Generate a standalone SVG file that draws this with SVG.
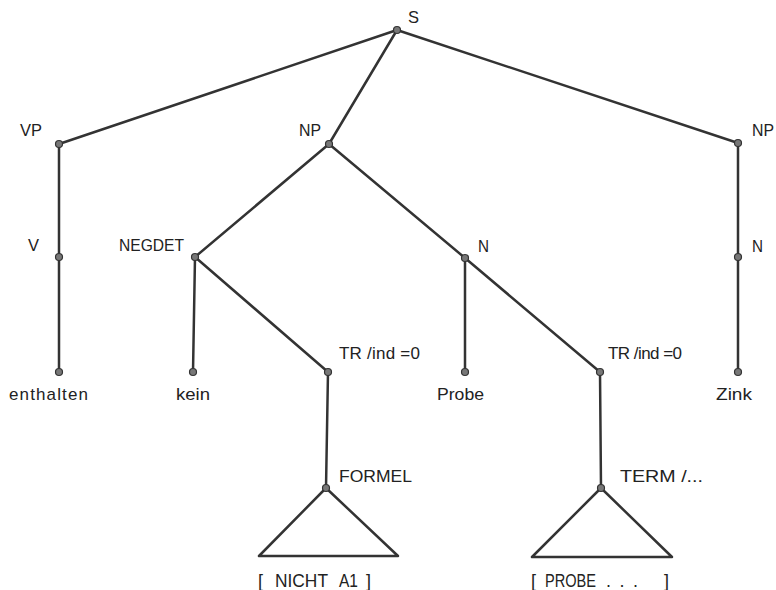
<svg xmlns="http://www.w3.org/2000/svg" width="776" height="590" viewBox="0 0 776 590">
<style>
.e{stroke:#333;stroke-width:2.5;fill:none;stroke-linecap:round;stroke-linejoin:round}
.n{fill:#777;stroke:#333;stroke-width:1.2}
text{font-family:"Liberation Sans","DejaVu Sans",sans-serif;font-size:17px;fill:#222}
.b{font-size:18px}
</style>
<rect width="776" height="590" fill="#fff"/>
<g id="connectors">
<line class="e" x1="397" y1="30" x2="59" y2="144"/>
<line class="e" x1="397" y1="30" x2="329" y2="144"/>
<line class="e" x1="397" y1="30" x2="738" y2="143"/>
<line class="e" x1="59" y1="144" x2="59" y2="257"/>
<line class="e" x1="59" y1="257" x2="59" y2="372"/>
<line class="e" x1="329" y1="144" x2="195" y2="257"/>
<line class="e" x1="329" y1="144" x2="465" y2="258"/>
<line class="e" x1="195" y1="257" x2="193" y2="372"/>
<line class="e" x1="195" y1="257" x2="328" y2="372"/>
<line class="e" x1="328" y1="372" x2="326" y2="488"/>
<line class="e" x1="465" y1="258" x2="465" y2="372"/>
<line class="e" x1="465" y1="258" x2="600" y2="372"/>
<line class="e" x1="600" y1="372" x2="601" y2="488"/>
<line class="e" x1="738" y1="143" x2="738" y2="257"/>
<line class="e" x1="738" y1="257" x2="738" y2="372"/>
<polygon class="e" points="326,488 259,556 398,556"/>
<polygon class="e" points="601,488 532,557 672,557"/>
</g>
<g id="S"><circle class="n" cx="397" cy="30" r="3.5"/><text x="408" y="23" textLength="11" lengthAdjust="spacingAndGlyphs">S</text></g>
<g id="VP"><circle class="n" cx="59" cy="144" r="3.5"/><text x="20" y="136" textLength="22" lengthAdjust="spacingAndGlyphs">VP</text></g>
<g id="NP1"><circle class="n" cx="329" cy="144" r="3.5"/><text x="299" y="136" textLength="22" lengthAdjust="spacingAndGlyphs">NP</text></g>
<g id="NP2"><circle class="n" cx="738" cy="143" r="3.5"/><text x="752" y="136" textLength="22" lengthAdjust="spacingAndGlyphs">NP</text></g>
<g id="V"><circle class="n" cx="59" cy="257" r="3.5"/><text x="28" y="251" textLength="11" lengthAdjust="spacingAndGlyphs">V</text></g>
<g id="NEGDET"><circle class="n" cx="195" cy="257" r="3.5"/><text x="119" y="251" textLength="65" lengthAdjust="spacingAndGlyphs">NEGDET</text></g>
<g id="N1"><circle class="n" cx="465" cy="258" r="3.5"/><text x="478" y="252" textLength="11" lengthAdjust="spacingAndGlyphs">N</text></g>
<g id="N2"><circle class="n" cx="738" cy="257" r="3.5"/><text x="752" y="252" textLength="11" lengthAdjust="spacingAndGlyphs">N</text></g>
<g id="enthalten"><circle class="n" cx="59" cy="372" r="3.5"/><text x="9" y="400" textLength="79" lengthAdjust="spacing">enthalten</text></g>
<g id="kein"><circle class="n" cx="193" cy="372" r="3.5"/><text x="176" y="400" textLength="34" lengthAdjust="spacingAndGlyphs">kein</text></g>
<g id="TR1"><circle class="n" cx="328" cy="372" r="3.5"/><text x="339" y="359" textLength="81" lengthAdjust="spacing">TR /ind =0</text></g>
<g id="Probe"><circle class="n" cx="465" cy="372" r="3.5"/><text x="437" y="400" textLength="47" lengthAdjust="spacingAndGlyphs">Probe</text></g>
<g id="TR2"><circle class="n" cx="600" cy="372" r="3.5"/><text x="608" y="359" textLength="74" lengthAdjust="spacing">TR /ind =0</text></g>
<g id="Zink"><circle class="n" cx="738" cy="372" r="3.5"/><text x="716" y="400" textLength="36" lengthAdjust="spacingAndGlyphs">Zink</text></g>
<g id="FORMEL"><circle class="n" cx="326" cy="488" r="3.5"/><text x="339" y="482" textLength="73" lengthAdjust="spacingAndGlyphs">FORMEL</text><text class="b" y="587"><tspan x="258">[</tspan><tspan x="275" textLength="53" lengthAdjust="spacingAndGlyphs">NICHT</tspan><tspan x="339" textLength="19" lengthAdjust="spacingAndGlyphs">A1</tspan><tspan x="366">]</tspan></text></g>
<g id="TERM"><circle class="n" cx="601" cy="488" r="3.5"/><text x="620" y="482" textLength="83" lengthAdjust="spacingAndGlyphs">TERM /...</text><text class="b" y="587"><tspan x="531">[</tspan><tspan x="545" textLength="51" lengthAdjust="spacingAndGlyphs">PROBE</tspan><tspan x="606" textLength="32" lengthAdjust="spacing">. . .</tspan><tspan x="664">]</tspan></text></g>
</svg>
